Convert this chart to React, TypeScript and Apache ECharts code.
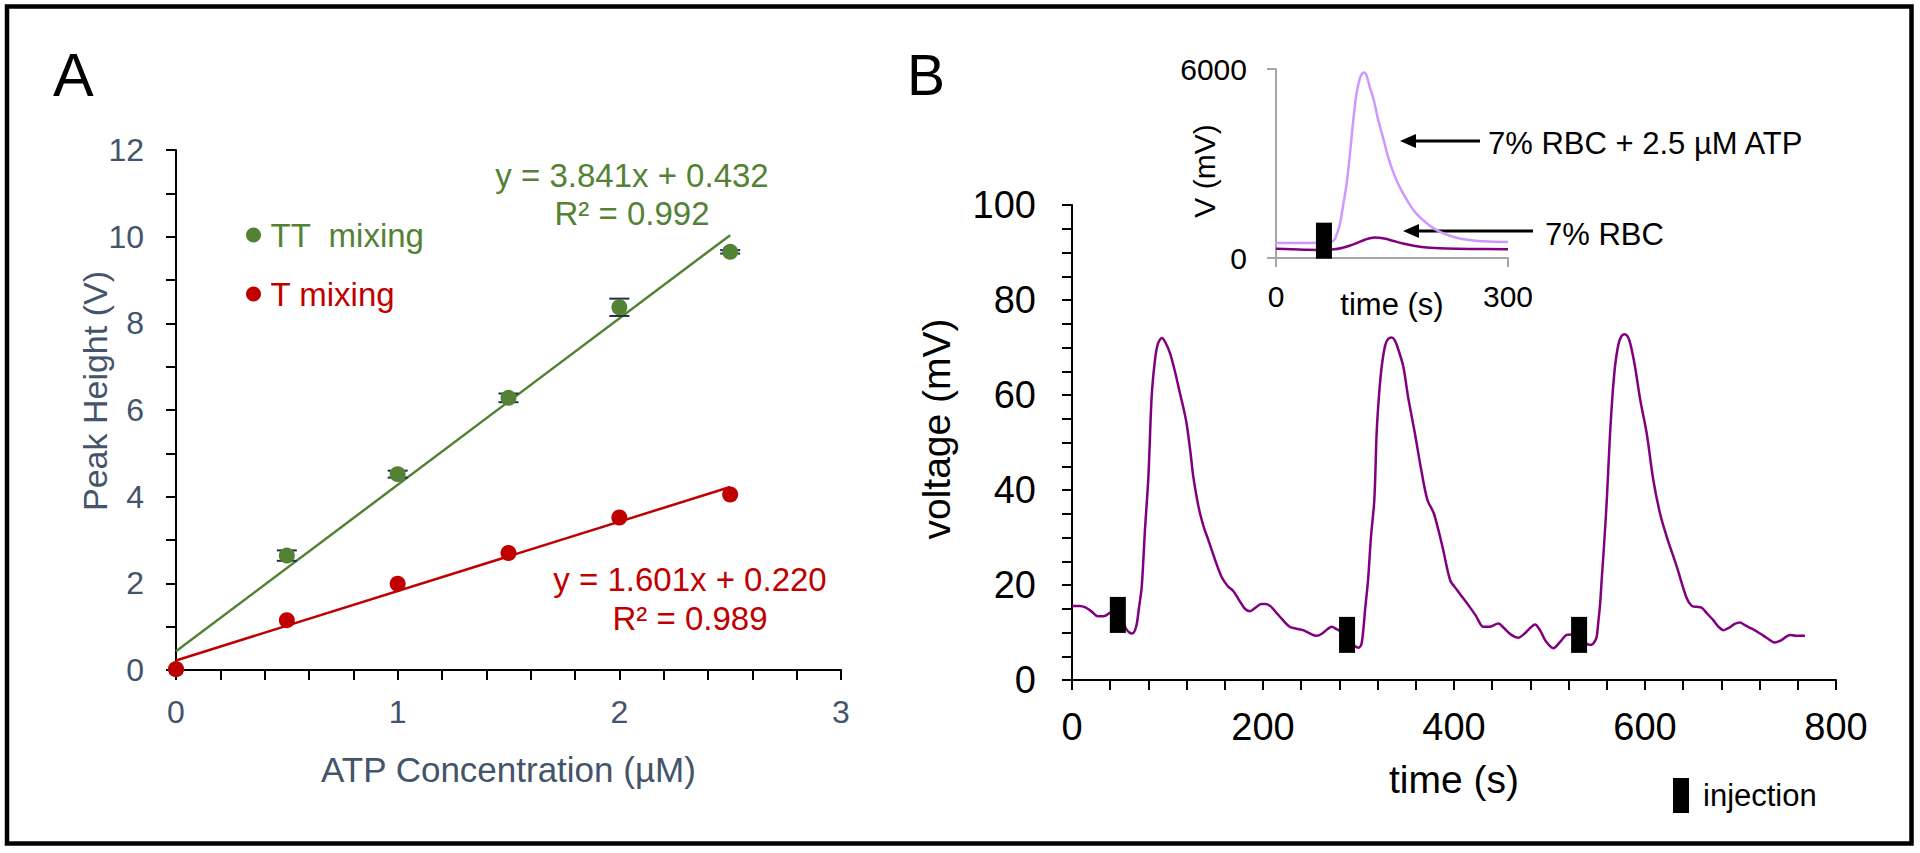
import React, { useEffect, useRef } from "react";
import * as echarts from "echarts";

const FONT = "'Liberation Sans', Arial, Helvetica, sans-serif";
const GREEN = "#548235";
const RED = "#C00000";
const SLATE = "#44546A";
const PURPLE = "#800080";
const LILAC = "#CC99FF";
const GREY = "#A6A6A6";

// ---------- Panel A data ----------
const atpConc = [0, 0.5, 1, 1.5, 2, 2.5];
const ttHeights = [0.02, 2.64, 4.52, 6.28, 8.37, 9.65];
const ttErrors = [0, 0.12, 0.08, 0.1, 0.2, 0.04];
const tHeights = [0.02, 1.15, 1.99, 2.7, 3.52, 4.05];
const ttFitX = [0, 2.5];
const ttFitY = [0.432, 10.035];
const tFitX = [0, 2.5];
const tFitY = [0.22, 4.223];
const ttEquation = ["y = 3.841x + 0.432", "R² = 0.992"];
const tEquation = ["y = 1.601x + 0.220", "R² = 0.989"];
const panelATitles = { x: "ATP Concentration (µM)", y: "Peak Height (V)" };

// ---------- Panel B data ----------
const traceTime = [
  0, 8, 14, 20, 27, 33, 40, 46, 52, 56, 60, 63.5, 66, 68, 70, 73, 76.4, 80, 83.4, 86.9, 90, 94, 98, 102.6, 108, 113,
  117, 120, 124, 127, 131, 134, 138, 142.7, 150, 156.7, 163, 169, 175, 181, 186.4, 192, 198, 203, 208, 213, 220, 228,
  235, 242, 249, 256, 262, 268, 272, 277, 283, 289, 295, 300, 303, 305, 307, 310, 313, 316.6, 319, 321.5, 324.3, 328,
  331, 334.7, 338, 341, 346.9, 352, 359, 365, 372, 379, 388, 396, 403, 409.7, 416, 423, 430.7, 437, 446.4, 452, 460,
  467.3, 474, 479, 484.8, 490, 496, 504, 511, 518, 523, 528, 535, 540, 544, 547, 549.4, 551, 553, 554.6, 557, 560,
  563.4, 566, 568.6, 572, 575, 578.4, 582, 585, 589.5, 595, 601.8, 608.7, 615.7, 622.7, 633.2, 643.7, 649, 654, 659.4,
  665, 671.5, 677, 682, 688, 694, 699.5, 705, 712, 720.4, 728, 736.1, 743, 751.8, 758, 767.5,
];
const traceVoltage = [
  15.6, 15.6, 15.3, 14.5, 13.4, 13.4, 14.2, 14.9, 13, 11, 10, 9.8, 10.5, 12, 15, 19.6, 31.6, 42.8, 59.6, 67.4, 70.8, 72,
  71, 68.8, 64.8, 60.4, 57, 54, 48, 42.8, 38, 35.1, 32.2, 29.5, 25.2, 21.7, 19.8, 18.7, 16.8, 15, 14.5, 15.2, 16, 16,
  15.5, 14.4, 12.8, 11.2, 10.8, 10.5, 9.8, 9.3, 9.8, 10.8, 11.2, 10.7, 10, 8.6, 7.3, 6.8, 7.5, 10.5, 15, 21, 30, 38, 52,
  60, 66, 70.5, 71.8, 72.1, 71.5, 70, 66, 59.5, 52, 45, 38, 35, 28, 21, 19, 17.2, 15.5, 13.5, 11.2, 11.2, 11.9, 11, 9.5,
  8.9, 9.8, 10.8, 11.7, 10.5, 8.2, 6.7, 8, 9.5, 9.6, 9.4, 8.5, 7.5, 7.4, 8, 9.1, 12, 16, 21, 28, 37.9, 51.9, 60, 66,
  70.5, 72.3, 72.8, 72.3, 70.5, 66, 59, 51.9, 42.1, 35.1, 30.2, 23.9, 17.2, 15.6, 15.4, 15.2, 14, 12.6, 11.2, 10.5, 11,
  11.8, 12.1, 11.5, 10.8, 9.8, 8.8, 7.9, 8.4, 9.5, 9.3, 9.3,
];
const injectionTime = [48, 288, 531];
const injectionLevel = [13.7, 9.5, 9.5];
const panelBTitles = { x: "time (s)", y: "voltage (mV)" };

// ---------- Inset data ----------
const insetTime = [
  0, 20, 40, 55, 65, 72, 76, 80, 82.8, 87, 91.4, 96, 100.4, 104, 106.9, 110, 113.8, 117, 121, 126.3, 132, 139.2, 145,
  152.2, 160, 169.4, 180, 195.3, 210, 229.7, 250, 275, 300,
];
const insetAtp = [
  480, 480, 480, 490, 500, 520, 600, 850, 1095, 1700, 2370, 3400, 4491, 5200, 5555, 5800, 5892, 5800, 5450, 5023, 4400,
  3749, 3200, 2688, 2250, 1838, 1450, 1095, 850, 669, 570, 520, 510,
];
const insetRbcTime = [0, 20, 40, 55, 65, 75, 85, 95, 105, 115, 127.5, 140, 152, 164, 180, 195, 220, 250, 300];
const insetRbc = [290, 280, 260, 255, 262, 275, 320, 390, 480, 580, 650, 620, 540, 458, 380, 330, 300, 285, 280];
const insetInjectionTime = [62];
const insetInjectionLevel = [550];
const insetTitles = { x: "time (s)", y: "V (mV)" };
const insetSeriesNames = ["7% RBC + 2.5 µM ATP", "7% RBC"];

function valueAxis(o: any) {
  const lineColor = o.lineColor || "#000";
  return {
    type: "value",
    gridIndex: o.grid,
    min: o.min,
    max: o.max,
    interval: o.interval,
    axisLine: { show: true, onZero: false, lineStyle: { color: lineColor, width: o.lineWidth || 2 } },
    axisTick: { show: true, inside: false, length: o.tickLen || 10, lineStyle: { color: lineColor, width: o.lineWidth || 2 } },
    minorTick: {
      show: !!o.minor,
      splitNumber: o.minor || 5,
      length: o.tickLen || 10,
      lineStyle: { color: lineColor, width: o.lineWidth || 2 },
    },
    splitLine: { show: false },
    minorSplitLine: { show: false },
    axisLabel: {
      color: o.labelColor || "#000",
      fontSize: o.fontSize,
      fontFamily: FONT,
      margin: o.margin,
      showMinLabel: true,
      showMaxLabel: true,
      formatter: (v: number) => String(v),
    },
    name: o.name,
    nameLocation: "middle",
    nameGap: o.nameGap,
    nameMoveOverlap: false,
    nameTextStyle: {
      color: o.labelColor || "#000",
      fontSize: o.nameSize,
      fontFamily: FONT,
    },
  };
}

function text(str: string, x: number, y: number, size: number, color: string, align = "center", rotation = 0) {
  return {
    type: "text",
    x,
    y,
    rotation,
    silent: true,
    style: { text: str, fontSize: size, fontFamily: FONT, fill: color, align, verticalAlign: "middle" },
  };
}

function arrow(tipX: number, tailX: number, y: number) {
  return [
    { type: "line", silent: true, shape: { x1: tipX + 12, y1: y, x2: tailX, y2: y }, style: { stroke: "#000", lineWidth: 3.2 } },
    {
      type: "polygon",
      silent: true,
      shape: { points: [[tipX, y], [tipX + 16, y - 7], [tipX + 16, y + 7]] },
      style: { fill: "#000" },
    },
  ];
}

function buildOption() {
  const ttData = atpConc.map((x, i) => [x, ttHeights[i]]);
  const tData = atpConc.map((x, i) => [x, tHeights[i]]);
  const errData = atpConc
    .map((x, i) => [x, ttHeights[i] - ttErrors[i], ttHeights[i] + ttErrors[i]])
    .filter((_, i) => ttErrors[i] > 0);

  return {
    animation: false,
    backgroundColor: "#fff",
    textStyle: { fontFamily: FONT },
    grid: [
      { left: 176, top: 150, width: 665, height: 520, containLabel: false },
      { left: 1072, top: 205, width: 764, height: 475, containLabel: false },
      { left: 1276, top: 69, width: 232, height: 189, containLabel: false },
    ],
    xAxis: [
      valueAxis({
        grid: 0, min: 0, max: 3, interval: 1, minor: 5, labelColor: SLATE, fontSize: 32, margin: 26,
        name: panelATitles.x, nameGap: 82, nameSize: 35,
      }),
      valueAxis({
        grid: 1, min: 0, max: 800, interval: 200, minor: 5, fontSize: 38, margin: 28,
        name: panelBTitles.x, nameGap: 80, nameSize: 39,
      }),
      valueAxis({
        grid: 2, min: 0, max: 300, interval: 300, lineColor: GREY, tickLen: 9, fontSize: 30, margin: 23,
        name: insetTitles.x, nameGap: 31, nameSize: 31,
      }),
    ],
    yAxis: [
      valueAxis({ grid: 0, min: 0, max: 12, interval: 2, minor: 2, labelColor: SLATE, fontSize: 32, margin: 32 }),
      valueAxis({ grid: 1, min: 0, max: 100, interval: 20, minor: 4, fontSize: 38, margin: 36 }),
      valueAxis({ grid: 2, min: 0, max: 6000, interval: 6000, lineColor: GREY, tickLen: 9, fontSize: 30, margin: 29 }),
    ],
    legend: [
      {
        left: 241,
        top: 213,
        orient: "vertical",
        itemWidth: 24,
        itemHeight: 15,
        itemGap: 25,
        icon: "circle",
        selectedMode: false,
        textStyle: { fontSize: 33, fontFamily: FONT, lineHeight: 34 },
        data: [
          { name: "TT  mixing", textStyle: { color: GREEN, fontSize: 33 } },
          { name: "T mixing", textStyle: { color: RED, fontSize: 33 } },
        ],
      },
      {
        left: 1668,
        top: 773,
        itemWidth: 16,
        itemHeight: 35,
        icon: "rect",
        selectedMode: false,
        textStyle: { fontSize: 31, fontFamily: FONT, color: "#000", padding: [0, 0, 0, 9] },
        data: ["injection"],
      },
    ],
    series: [
      {
        name: "TT fit",
        type: "line",
        xAxisIndex: 0,
        yAxisIndex: 0,
        data: ttFitX.map((x, i) => [x, ttFitY[i]]),
        showSymbol: false,
        silent: true,
        lineStyle: { color: GREEN, width: 2.5 },
        itemStyle: { color: GREEN },
        z: 2,
      },
      {
        name: "T fit",
        type: "line",
        xAxisIndex: 0,
        yAxisIndex: 0,
        data: tFitX.map((x, i) => [x, tFitY[i]]),
        showSymbol: false,
        silent: true,
        lineStyle: { color: RED, width: 2.5 },
        itemStyle: { color: RED },
        z: 2,
      },
      {
        name: "TT error",
        type: "custom",
        xAxisIndex: 0,
        yAxisIndex: 0,
        silent: true,
        z: 3,
        encode: { x: 0, y: [1, 2] },
        data: errData,
        renderItem: (params: any, api: any) => {
          const x = api.value(0);
          const lo = api.coord([x, api.value(1)]);
          const hi = api.coord([x, api.value(2)]);
          const st = { stroke: "#1F2D4F", lineWidth: 2 };
          return {
            type: "group",
            children: [
              { type: "line", shape: { x1: lo[0], y1: lo[1], x2: hi[0], y2: hi[1] }, style: st },
              { type: "line", shape: { x1: lo[0] - 10, y1: lo[1], x2: lo[0] + 10, y2: lo[1] }, style: st },
              { type: "line", shape: { x1: hi[0] - 10, y1: hi[1], x2: hi[0] + 10, y2: hi[1] }, style: st },
            ],
          };
        },
      },
      {
        name: "TT  mixing",
        type: "scatter",
        xAxisIndex: 0,
        yAxisIndex: 0,
        data: ttData,
        symbol: "circle",
        symbolSize: 16,
        itemStyle: { color: GREEN, opacity: 1 },
        z: 4,
      },
      {
        name: "T mixing",
        type: "scatter",
        xAxisIndex: 0,
        yAxisIndex: 0,
        data: tData,
        symbol: "circle",
        symbolSize: 16,
        itemStyle: { color: RED, opacity: 1 },
        z: 5,
      },
      {
        name: "voltage",
        type: "line",
        xAxisIndex: 1,
        yAxisIndex: 1,
        data: traceTime.map((t, i) => [t, traceVoltage[i]]),
        smooth: 0.3,
        showSymbol: false,
        silent: true,
        lineStyle: { color: PURPLE, width: 2.5 },
        itemStyle: { color: PURPLE },
        z: 2,
      },
      {
        name: "injection",
        type: "scatter",
        xAxisIndex: 1,
        yAxisIndex: 1,
        data: injectionTime.map((t, i) => [t, injectionLevel[i]]),
        symbol: "rect",
        symbolSize: [16, 36],
        itemStyle: { color: "#000", opacity: 1 },
        z: 5,
      },
      {
        name: insetSeriesNames[0],
        type: "line",
        xAxisIndex: 2,
        yAxisIndex: 2,
        data: insetTime.map((t, i) => [t, insetAtp[i]]),
        smooth: 0.3,
        showSymbol: false,
        silent: true,
        lineStyle: { color: LILAC, width: 2.5 },
        itemStyle: { color: LILAC },
        z: 2,
      },
      {
        name: insetSeriesNames[1],
        type: "line",
        xAxisIndex: 2,
        yAxisIndex: 2,
        data: insetRbcTime.map((t, i) => [t, insetRbc[i]]),
        smooth: 0.3,
        showSymbol: false,
        silent: true,
        lineStyle: { color: PURPLE, width: 2.5 },
        itemStyle: { color: PURPLE },
        z: 3,
      },
      {
        name: "injection",
        type: "scatter",
        xAxisIndex: 2,
        yAxisIndex: 2,
        data: insetInjectionTime.map((t, i) => [t, insetInjectionLevel[i]]),
        symbol: "rect",
        symbolSize: [16, 36],
        itemStyle: { color: "#000", opacity: 1 },
        z: 5,
      },
    ],
    graphic: [
      {
        type: "rect",
        silent: true,
        z: 100,
        shape: { x: 7, y: 6.5, width: 1904.5, height: 837 },
        style: { fill: "none", stroke: "#000", lineWidth: 4.5 },
      },
      text("A", 53, 75, 61, "#000", "left"),
      text("B", 907, 75, 57, "#000", "left"),
      text(panelATitles.y, 95, 391, 34, SLATE, "center", Math.PI / 2),
      text(panelBTitles.y, 936, 429, 39, "#000", "center", Math.PI / 2),
      text(insetTitles.y, 1204, 171, 30, "#000", "center", Math.PI / 2),
      text(ttEquation[0], 632, 175, 33, GREEN),
      text(ttEquation[1], 632, 213, 33, GREEN),
      text(tEquation[0], 690, 579, 33, RED),
      text(tEquation[1], 690, 618, 33, RED),
      ...arrow(1400, 1480, 141),
      ...arrow(1403, 1533, 231),
      text(insetSeriesNames[0], 1488, 143, 31, "#000", "left"),
      text(insetSeriesNames[1], 1545, 234, 31, "#000", "left"),
    ],
  };
}

export default function App() {
  const ref = useRef<HTMLDivElement>(null);
  useEffect(() => {
    if (!ref.current) return;
    const chart = echarts.init(ref.current, null, { renderer: "svg" });
    chart.setOption(buildOption() as any);
    return () => chart.dispose();
  }, []);
  return (
    <div
      ref={ref}
      style={{ position: "absolute", left: 0, top: 0, width: 1920, height: 853, background: "#fff" }}
    />
  );
}
